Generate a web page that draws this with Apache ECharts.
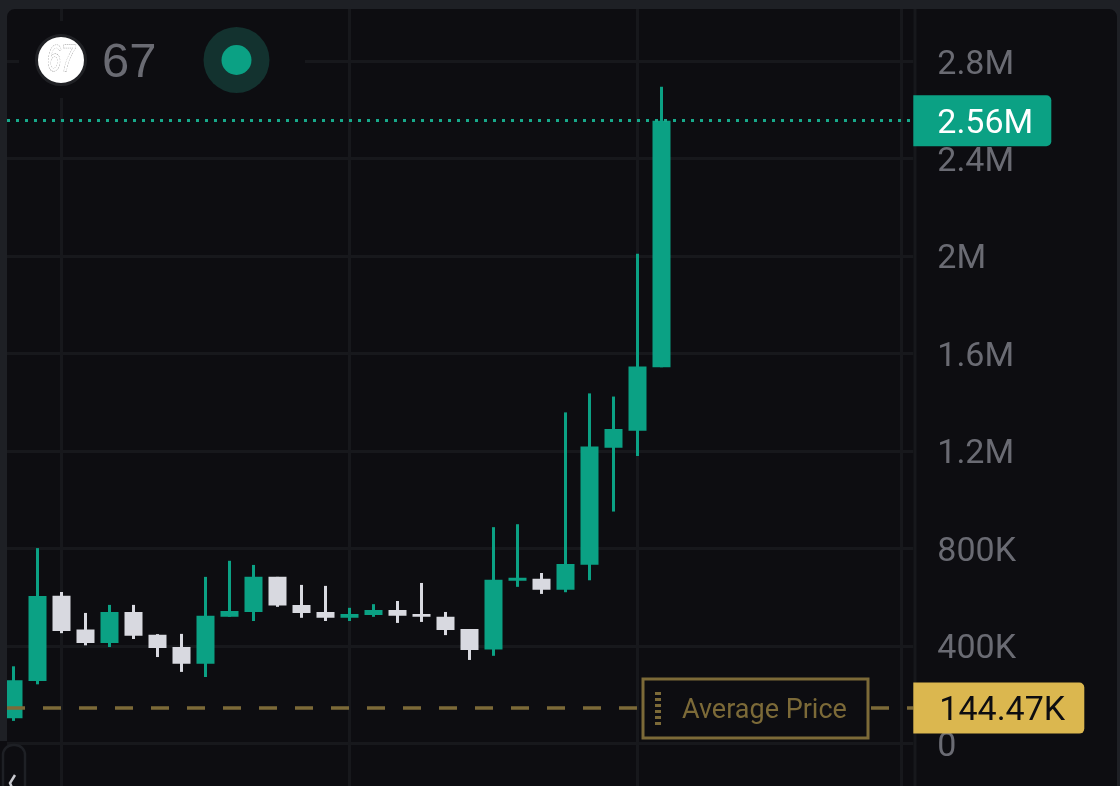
<!DOCTYPE html>
<html><head><meta charset="utf-8">
<style>html,body{margin:0;padding:0;background:#0d0d11}#c{width:1120px;height:786px}</style>
<script src="https://cdn.jsdelivr.net/npm/echarts@6/dist/echarts.min.js"></script>
</head><body><div id="c"></div>
<script>
const slots = Array.from('abcdefghijklmnopqrstuvwxyzABCDEFGHIJKL');
const opens  = [103,256,605,467,412,539,445,395,326,519,539,683,568,539,515,527,547,531,519,469,385,667,675,630,733,1213,1283,1543];
const closes = [259,604,461,412,539,441,391,326,523,543,683,566,535,515,531,547,523,519,465,383,671,679,630,736,1218,1290,1546,2555];
const lows   = [92,242,452,402,395,428,354,293,272,519,502,560,515,502,502,519,494,498,444,342,359,642,613,620,669,951,1179,1543];
const highs  = [316,801,621,535,568,568,448,449,683,749,732,683,650,646,556,571,584,658,539,469,887,899,699,1358,1436,1423,2009,2694];
const yTicks = {0:'0',400000:'400K',800000:'800K',1200000:'1.2M',1600000:'1.6M',2000000:'2M',2400000:'2.4M',2800000:'2.8M'};
const lastPrice = 2555000, lastLabel = '2.56M';
const avgPrice = 144470, avgLabel = '144.47K';
const verticalSlots = [2,14,26,37];

const BG='#0d0d11', FRAME='#1e2025', GRID='#17181c', GREEN='#0ba184', WHITE='#d8d9e0', AXIS='#6a6b73', GOLD='#7c6a38', TAG='#dbb74f';
const FONT='Roboto';
const candles = opens.map((o,i)=>[o*1000,closes[i]*1000,lows[i]*1000,highs[i]*1000]);

const chart = echarts.init(document.getElementById('c'),null,{renderer:'canvas'});
chart.setOption({
  animation:false,
  backgroundColor:BG,
  grid:[
    {left:1.3,width:912,top:61,height:682.3},
    {left:13.3,width:888,top:9,height:777}
  ],
  xAxis:[
    {type:'category',gridIndex:0,data:slots,show:false},
    {type:'category',gridIndex:1,data:slots,boundaryGap:false,
     axisLine:{show:false},axisTick:{show:false},axisLabel:{show:false},
     splitLine:{show:true,interval:(i)=>verticalSlots.includes(i),lineStyle:{color:GRID,width:3}}}
  ],
  yAxis:[
    {type:'value',gridIndex:0,position:'right',min:0,max:2800000,interval:400000,
     axisLine:{show:false},axisTick:{show:false},
     axisLabel:{margin:24,formatter:v=>'{t|'+yTicks[v]+'}',
       rich:{t:{color:AXIS,fontFamily:FONT,fontSize:34,lineHeight:40,padding:[8,0,0,0]}}},
     splitLine:{show:true,lineStyle:{color:GRID,width:3}}},
    {type:'value',gridIndex:1,show:false,splitLine:{show:false}}
  ],
  series:[
  {
    name:'wicks',type:'candlestick',xAxisIndex:0,yAxisIndex:0,barWidth:1,z:4,
    data:candles,
    itemStyle:{color:GREEN,color0:WHITE,borderColor:GREEN,borderColor0:WHITE,borderWidth:3}
  },
  {
    name:'bodies',type:'candlestick',xAxisIndex:0,yAxisIndex:0,barWidth:19,z:5,
    data:candles,
    itemStyle:{color:GREEN,color0:WHITE,borderColor:GREEN,borderColor0:WHITE,borderWidth:0},
    markLine:{silent:true,symbol:'none',animation:false,z:6,
      data:[
        {yAxis:lastPrice,
         lineStyle:{color:'#17a98b',type:[3,6],dashOffset:3.3,width:3,cap:'butt'},
         label:{show:true,position:'end',distance:0,formatter:'{t|'+lastLabel+'}',
           backgroundColor:GREEN,borderRadius:[0,5,5,0],padding:[9,0,2,24],align:'left',
           rich:{t:{color:'#fff',fontFamily:FONT,fontSize:34,lineHeight:40,width:114}}}},
        {yAxis:avgPrice,
         lineStyle:{color:GOLD,type:[18,18],dashOffset:30.3,width:3.5},
         label:{show:true,position:'end',distance:0,formatter:'{t|'+avgLabel+'}',
           backgroundColor:TAG,borderRadius:[0,5,5,0],padding:[9,0,2,26],align:'left',
           rich:{t:{color:'#0d0d11',fontFamily:FONT,fontSize:34,lineHeight:40,width:145}}}}
      ]}
  }],
  graphic:{elements:[
    {type:'rect',z:1,silent:true,shape:{x:19,y:21,width:286,height:77},style:{fill:BG}},
    {type:'line',z:1,silent:true,shape:{x1:915,y1:9,x2:915,y2:786},style:{stroke:GRID,lineWidth:3}},
    {type:'circle',z:3,silent:true,shape:{cx:61,cy:60,r:24.5},style:{fill:'#fff',stroke:'#202125',lineWidth:3}},
    {type:'text',z:3,silent:true,x:61,y:61,scaleX:0.7,originX:0,style:{text:'67',fontFamily:'Liberation Sans',fontStyle:'italic',fontSize:36,fill:'#fff',stroke:'#8c8c8c',lineWidth:0.9,lineDash:[2,1],align:'center',verticalAlign:'middle'}},
    {type:'text',z:3,silent:true,x:102,y:63,style:{text:'67',fontFamily:'Liberation Sans',fontSize:49,fill:AXIS,align:'left',verticalAlign:'middle'}},
    {type:'circle',z:3,silent:true,shape:{cx:236.5,cy:60,r:33},style:{fill:'#13322f'}},
    {type:'circle',z:3,silent:true,shape:{cx:236.5,cy:60,r:15},style:{fill:GREEN}},
    {type:'rect',z:7,silent:true,shape:{x:643,y:679,width:225,height:59},style:{fill:BG,stroke:GOLD,lineWidth:3}},
    {type:'line',z:7,silent:true,shape:{x1:658,y1:692,x2:658,y2:726},style:{stroke:GOLD,lineWidth:6,lineDash:[3,3]}},
    {type:'text',z:7,silent:true,x:682,y:711,style:{text:'Average Price',fontFamily:FONT,fontSize:27,fill:GOLD,align:'left',verticalAlign:'middle'}},
    {type:'rect',z:50,silent:true,shape:{x:-3,y:-1,width:1130,height:900,r:18},style:{fill:'none',stroke:FRAME,lineWidth:20}},
    {type:'rect',z:50,silent:true,shape:{x:0,y:741,width:7,height:45},style:{fill:BG}},
    {type:'rect',z:51,silent:true,shape:{x:3,y:745,width:22,height:70,r:10},style:{fill:BG,stroke:FRAME,lineWidth:2.5}},
    {type:'polyline',z:52,silent:true,shape:{points:[[15,775],[10,783],[13,790]]},style:{fill:'none',stroke:'#c9cad0',lineWidth:2.5}}
  ]}
});
</script></body></html>
